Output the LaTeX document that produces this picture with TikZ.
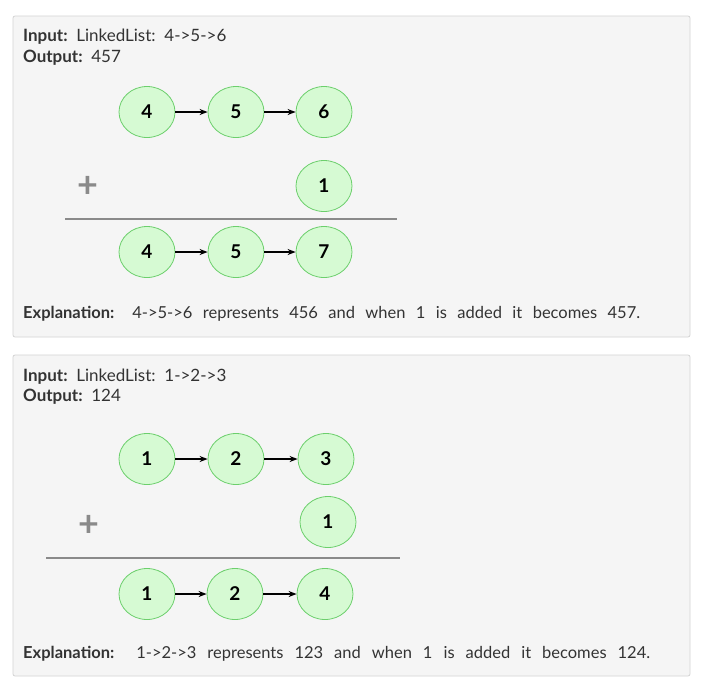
\documentclass[tikz,border=0pt]{standalone}
\usepackage{fontspec}
\setmainfont{Lato}
\usetikzlibrary{shapes.geometric,arrows.meta}
\definecolor{panelfill}{HTML}{F5F5F5}
\definecolor{panelborder}{HTML}{D4D4D4}
\definecolor{nodefill}{HTML}{D6FAD3}
\definecolor{nodeborder}{HTML}{6CCF6C}
\definecolor{txt}{HTML}{333333}
\definecolor{rule}{HTML}{8A8A8A}
\tikzset{
  panel/.style={draw=panelborder, fill=panelfill, rounded corners=2pt, line width=0.8pt},
  lnode/.style={ellipse, draw=nodeborder, fill=nodefill, line width=0.8pt,
    minimum width=56pt, minimum height=51pt, inner sep=0pt,
    font=\fontsize{19}{21}\selectfont\bfseries, text=black},
  link/.style={-{Stealth[length=8pt,width=6pt]}, line width=1.4pt, black},
  sumrule/.style={draw=rule, line width=2.2pt},
  plusnode/.style={text=rule, font=\fontsize{36}{38}\selectfont\bfseries, inner sep=0pt},
  label/.style={anchor=west, inner sep=0pt, text=txt, font=\fontsize{17}{19}\selectfont},
  explain/.style={anchor=west, inner sep=0pt, text=txt, font=\fontsize{16.5}{18}\selectfont},
}
\begin{document}
\begin{tikzpicture}[x=1pt,y=-1pt]
\useasboundingbox (0,0) rectangle (703,689);
\fill[white] (0,0) rectangle (703,689);
% panel 1
\draw[panel] (13,16) rectangle (690,337);
\node[label] (in1) at (23,37) {\textbf{Input:}\ \ LinkedList:\ \ 4->5->6};
\node[label] (out1) at (23,58) {\textbf{Output:}\ \ 457};
\node[lnode] (a1) at (147,112) {4};
\node[lnode] (a2) at (236,112) {5};
\node[lnode] (a3) at (324,112) {6};
\draw[link] (a1) -- (a2);
\draw[link] (a2) -- (a3);
\node[plusnode] (p1) at (88,187) {+};
\node[lnode] (b1) at (324,186) {1};
\coordinate (r1l) at (65,219);
\coordinate (r1r) at (397,219);
\draw[sumrule] (r1l) -- (r1r);
\node[lnode] (c1) at (147,252) {4};
\node[lnode] (c2) at (236,252) {5};
\node[lnode] (c3) at (324,252) {7};
\draw[link] (c1) -- (c2);
\draw[link] (c2) -- (c3);
\node[explain] (ex1) at (23,314) {\makebox[617pt][s]{\textbf{Explanation:} 4->5->6 represents 456 and when 1 is added it becomes 457.}};
% panel 2
\draw[panel] (13,355) rectangle (690,676);
\node[label] (in2) at (23,377) {\textbf{Input:}\ \ LinkedList:\ \ 1->2->3};
\node[label] (out2) at (23,397) {\textbf{Output:}\ \ 124};
\node[lnode] (d1) at (147,459) {1};
\node[lnode] (d2) at (236,459) {2};
\node[lnode] (d3) at (326,459) {3};
\draw[link] (d1) -- (d2);
\draw[link] (d2) -- (d3);
\node[plusnode] (p2) at (89,526) {+};
\node[lnode] (e1) at (328,522) {1};
\coordinate (r2l) at (46,558);
\coordinate (r2r) at (400,558);
\draw[sumrule] (r2l) -- (r2r);
\node[lnode] (f1) at (147,594) {1};
\node[lnode] (f2) at (235,594) {2};
\node[lnode] (f3) at (325,594) {4};
\draw[link] (f1) -- (f2);
\draw[link] (f2) -- (f3);
\node[explain] (ex2) at (23,654) {\makebox[627pt][s]{\textbf{Explanation:}\ \ 1->2->3 represents 123 and when 1 is added it becomes 124.}};
\end{tikzpicture}
\end{document}
